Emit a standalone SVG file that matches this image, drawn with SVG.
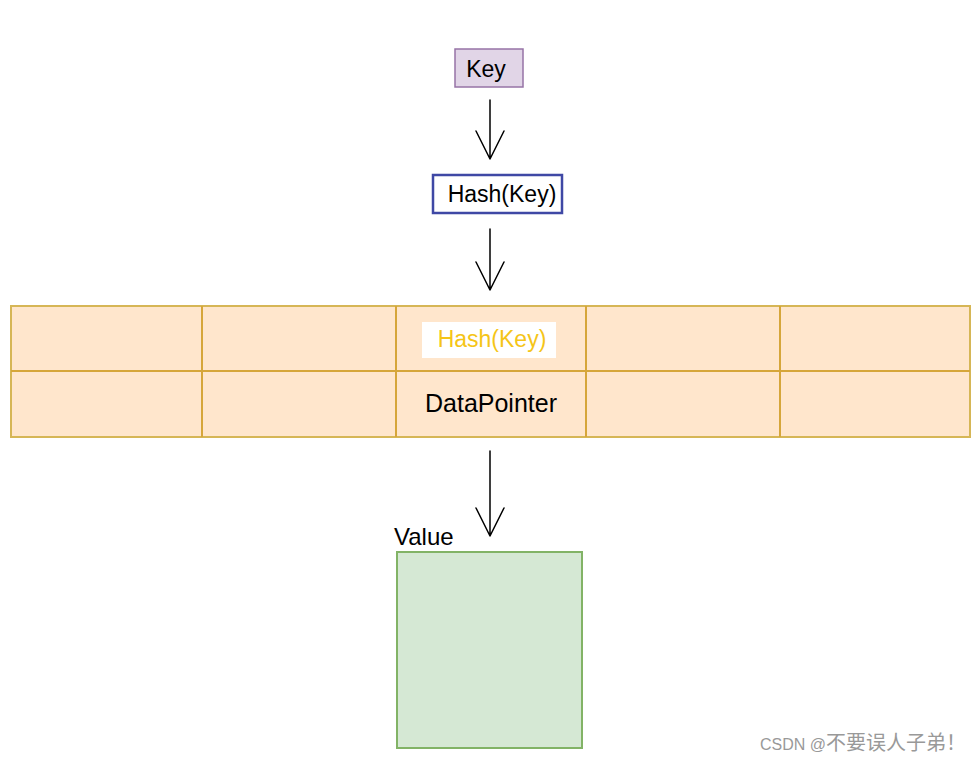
<svg xmlns="http://www.w3.org/2000/svg" width="978" height="763" viewBox="0 0 978 763">
<style>
  .t { font-family: "Liberation Sans", Arial, sans-serif; fill: #000; }
  .arrow { fill: none; stroke: #000; stroke-width: 1.5; stroke-linecap: round; stroke-linejoin: round; }
  .cell { fill: #ffe6cc; stroke: #d6b656; stroke-width: 2; }
</style>
<rect width="978" height="763" fill="#ffffff"/>
<g id="connectors">
  <path class="arrow" d="M490,100 L490,159 M476,131 L490,159 L504,131"/>
  <path class="arrow" d="M490,229 L490,290 M476,262 L490,290 L504,262"/>
  <path class="arrow" d="M490,451 L490,536 M476,508 L490,536 L504,508"/>
</g>
<g id="key">
  <rect x="455" y="49" width="68" height="38" fill="#e1d5e7" stroke="#9673a6" stroke-width="1.5"/>
  <text class="t" x="486" y="77" text-anchor="middle" font-size="23">Key</text>
</g>
<g id="hash">
  <rect x="433" y="175" width="129" height="38" fill="#ffffff" stroke="#3f48a5" stroke-width="2.5"/>
  <text class="t" x="502" y="202" text-anchor="middle" font-size="23">Hash(Key)</text>
</g>
<g id="table">
  <rect class="cell" x="11" y="306" width="959" height="131"/>
  <line x1="11" y1="371" x2="970" y2="371" stroke="#d6a63a" stroke-width="2"/>
  <line x1="202" y1="306" x2="202" y2="437" stroke="#d6a63a" stroke-width="2"/>
  <line x1="396" y1="306" x2="396" y2="437" stroke="#d6a63a" stroke-width="2"/>
  <line x1="586" y1="306" x2="586" y2="437" stroke="#d6a63a" stroke-width="2"/>
  <line x1="780" y1="306" x2="780" y2="437" stroke="#d6a63a" stroke-width="2"/>
  <rect x="422" y="322" width="134" height="36" fill="#ffffff"/>
  <text class="t" x="492" y="347" text-anchor="middle" font-size="23" style="fill:#f5c518">Hash(Key)</text>
  <text class="t" x="491" y="412" text-anchor="middle" font-size="25">DataPointer</text>
</g>
<g id="value">
  <text class="t" x="394" y="545" font-size="24">Value</text>
  <rect x="397" y="552" width="185" height="196" fill="#d5e8d4" stroke="#82b366" stroke-width="2"/>
</g>
<text x="760" y="750" font-family="'Liberation Sans', 'Noto Sans CJK SC', sans-serif" font-size="16" fill="#999999">CSDN @<tspan font-size="20">不要误人子弟！</tspan></text>
</svg>
